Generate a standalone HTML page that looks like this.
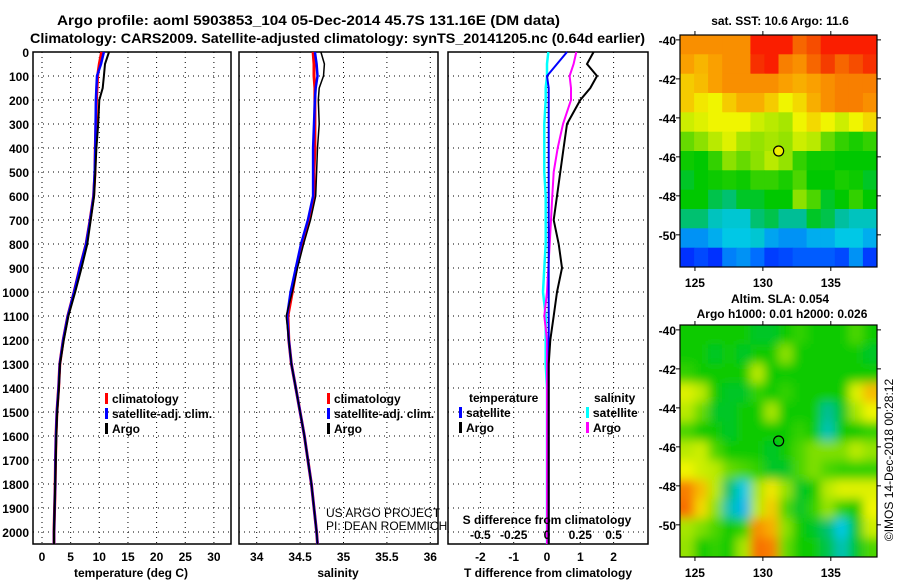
<!DOCTYPE html>
<html><head><meta charset="utf-8"><style>
body{margin:0;background:#fff;}
svg{display:block;font-family:"Liberation Sans",sans-serif;}
.b{font-weight:bold;}
</style></head><body>
<svg id="c" width="900" height="580" viewBox="0 0 900 580" xmlns="http://www.w3.org/2000/svg">
<defs>
<clipPath id="cp1"><rect x="680" y="35" width="197" height="232"/></clipPath>
<clipPath id="cp2"><rect x="680" y="325" width="197" height="232"/></clipPath>
<filter id="bl" x="-10%" y="-10%" width="120%" height="120%"><feGaussianBlur stdDeviation="5"/></filter>
</defs>
<text x="57" y="25" textLength="503" lengthAdjust="spacingAndGlyphs" class="b" font-size="14">Argo profile: aoml 5903853_104 05-Dec-2014 45.7S 131.16E (DM data)</text>
<text x="30" y="43" textLength="615" lengthAdjust="spacingAndGlyphs" class="b" font-size="14">Climatology: CARS2009. Satellite-adjusted climatology: synTS_20141205.nc (0.64d earlier)</text>
<g id="g"></g>
</svg>
<script>
// ---------- data ----------
const depths = [0,50,100,150,200,300,400,500,600,700,800,900,1000,1100,1200,1300,1400,1500,1600,1700,1800,1900,2000,2050];
const tempClim = [10.4,10.0,9.7,9.6,9.5,9.4,9.3,9.25,9.0,8.4,7.7,6.6,5.6,4.5,3.7,3.1,2.9,2.6,2.45,2.35,2.3,2.2,2.1,2.1];
const tempSat  = [10.8,10.3,9.6,9.5,9.4,9.35,9.3,9.2,9.0,8.4,7.7,6.6,5.6,4.5,3.7,3.1,2.9,2.6,2.45,2.35,2.3,2.2,2.1,2.1];
const tempArgo = [11.7,11.0,10.8,10.6,10.0,9.8,9.5,9.3,9.1,8.5,7.9,6.9,5.8,4.6,3.8,3.15,2.95,2.65,2.5,2.4,2.3,2.2,2.1,2.1];
const salClim  = [34.65,34.66,34.66,34.67,34.67,34.67,34.67,34.66,34.66,34.6,34.52,34.46,34.41,34.36,34.37,34.4,34.45,34.5,34.55,34.59,34.63,34.66,34.69,34.7];
const salSat   = [34.67,34.69,34.7,34.68,34.67,34.66,34.65,34.65,34.65,34.59,34.51,34.45,34.39,34.35,34.37,34.4,34.45,34.5,34.55,34.59,34.63,34.66,34.69,34.7];
const salArgo  = [34.74,34.78,34.77,34.72,34.71,34.72,34.7,34.69,34.68,34.62,34.54,34.47,34.41,34.34,34.37,34.4,34.45,34.5,34.55,34.59,34.63,34.66,34.69,34.7];
const dTsat  = [0.6,0.3,0.0,0.05,0.05,0.05,0.05,0.05,0.05,0.05,0.05,0.05,0.05,0.05,0.05,0.05,0.05,0.05,0.05,0.05,0.05,0.05,0.05,0.05];
const dTargo = [1.4,1.2,1.5,1.3,1.0,0.6,0.5,0.4,0.3,0.2,0.35,0.45,0.3,0.2,0.1,0.05,0.05,0.05,0.05,0.05,0.05,0.05,0.05,0.05];
const dSsat  = [0.01,0.0,0.0,-0.01,-0.01,-0.02,-0.02,-0.02,-0.01,-0.01,-0.01,-0.02,-0.03,-0.01,-0.01,-0.01,0,0,0,0,0,0,0,0];
const dSargo = [0.22,0.2,0.17,0.18,0.18,0.12,0.08,0.05,0.04,0.03,0.02,0.01,0.0,-0.02,0.0,0,0,0,0,0,0,0,0,0];
const depthTicks = [0,100,200,300,400,500,600,700,800,900,1000,1100,1200,1300,1400,1500,1600,1700,1800,1900,2000];
const tempTicks = [0,5,10,15,20,25,30];
const salTicks = [34,34.5,35,35.5,36];
const salTickLabels = ["34","34.5","35","35.5","36"];
const dTTicks = [-2,-1,0,1,2];
const dSTicks = [-0.5,-0.25,0,0.25,0.5];
const dSTickLabels = ["-0.5","-0.25","0","0.25","0.5"];
const latTicks = [-40,-42,-44,-46,-48,-50];
const lonTicks = [125,130,135];
const argoLon = 131.16, argoLat = -45.7;
const sstGrid = [
[.80,.80,.80,.80,.80,.95,.95,.95,.85,.88,.95,.95,.95,.95],
[.78,.75,.78,.80,.80,.92,.95,.82,.80,.85,.90,.85,.88,.92],
[.72,.74,.78,.80,.80,.80,.80,.78,.76,.78,.80,.82,.82,.82],
[.72,.68,.66,.72,.76,.76,.72,.66,.70,.76,.80,.82,.82,.80],
[.62,.64,.66,.66,.66,.62,.60,.58,.66,.70,.66,.62,.66,.70],
[.52,.55,.60,.64,.58,.56,.58,.56,.62,.60,.52,.48,.46,.48],
[.45,.44,.48,.55,.52,.55,.60,.56,.48,.45,.45,.44,.44,.44],
[.42,.44,.45,.46,.45,.48,.48,.46,.50,.44,.44,.46,.45,.42],
[.44,.44,.40,.38,.42,.42,.44,.44,.55,.50,.42,.44,.48,.44],
[.38,.38,.32,.30,.30,.38,.40,.36,.36,.42,.40,.35,.32,.32],
[.22,.22,.25,.28,.28,.30,.24,.22,.22,.25,.25,.28,.28,.25],
[.08,.12,.08,.20,.22,.18,.10,.12,.15,.15,.15,.12,.22,.10]];
const slaGrid = [
[.45,.45,.45,.45,.45,.42,.42,.45,.48,.45,.45,.45,.50,.45],
[.45,.45,.42,.45,.42,.45,.45,.55,.45,.45,.45,.45,.45,.42],
[.48,.45,.45,.45,.45,.60,.45,.45,.45,.45,.45,.45,.45,.45],
[.64,.60,.45,.42,.42,.48,.45,.48,.45,.45,.45,.45,.64,.74],
[.60,.52,.42,.42,.45,.45,.58,.45,.45,.45,.36,.42,.58,.66],
[.50,.45,.45,.42,.45,.45,.45,.45,.48,.45,.33,.45,.45,.48],
[.60,.62,.50,.45,.45,.45,.42,.45,.50,.54,.54,.54,.60,.56],
[.66,.62,.60,.52,.50,.48,.42,.42,.50,.54,.50,.48,.48,.48],
[.82,.74,.60,.38,.28,.58,.68,.56,.42,.45,.60,.64,.64,.64],
[.84,.70,.55,.33,.26,.60,.72,.50,.42,.48,.56,.48,.45,.66],
[.58,.54,.50,.45,.48,.80,.76,.55,.45,.42,.38,.28,.42,.62],
[.56,.45,.48,.45,.58,.84,.82,.52,.45,.45,.40,.33,.42,.50]];

// ---------- helpers ----------
const NS="http://www.w3.org/2000/svg";
const G=document.getElementById('g');
function mk(tag,attrs,parent){const e=document.createElementNS(NS,tag);for(const k in attrs)e.setAttribute(k,attrs[k]);(parent||G).appendChild(e);return e;}
function txt(x,y,s,size,anchor,bold,parent){const t=mk('text',{x:x,y:y,'font-size':size,'text-anchor':anchor||'middle'},parent);if(bold)t.setAttribute('font-weight','bold');t.textContent=s;return t;}
const yTop=52, yBot=544;
const yD=d=>yTop+(d/2050)*(yBot-yTop);
const xT=v=>42+5.73*v;
const xS=v=>256.7+(v-34)*86.8;
const xdT=v=>547+33.3*v;
const xdS=v=>547+133.2*v;

function panel(x0,x1,name){
  const r=mk('rect',{x:x0,y:yTop,width:x1-x0,height:yBot-yTop,fill:'#fff',stroke:'#000','stroke-width':1.5});
  
  
  depthTicks.forEach(d=>{
    const l=mk('line',{x1:x0,x2:x1,y1:yD(d),y2:yD(d),stroke:'#000','stroke-dasharray':'1,4','stroke-width':1});
    
    
  });
}
function vgrid(xs,name){
  xs.forEach(x=>{
    const l=mk('line',{x1:x,x2:x,y1:yTop,y2:yBot,stroke:'#000','stroke-dasharray':'1,4','stroke-width':1});
    
    
  });
}
function line(xs,fx,color,w,name){
  const pts=depths.map((d,i)=>fx(xs[i]).toFixed(1)+','+yD(d).toFixed(1)).join(' ');
  const p=mk('polyline',{points:pts,fill:'none',stroke:color,'stroke-width':w});
  
  
}
function legend(x,y,color,label,name){
  const r=mk('rect',{x:x,y:y-10,width:3,height:11,fill:color});
  
  
  const t=txt(x+7,y,label,12,'start',true);
  
  
}

// ---------- panel 1: temperature ----------
panel(33,231,'temperature-panel');
vgrid(tempTicks.map(xT),'temperature-gridline');
depthTicks.forEach(d=>{const t=txt(29,yD(d)+5,String(d),12,'end',true);
  
  });
tempTicks.forEach(v=>{const t=txt(xT(v),561,String(v),12,'middle',true);
  
  });
line(tempClim,xT,'#f00',3,'temperature-climatology-line');
line(tempSat,xT,'#00f',2.5,'temperature-satellite-line');
line(tempArgo,xT,'#000',2,'temperature-argo-line');
legend(105,403,'#f00','climatology','temp-legend-climatology');
legend(105,418,'#00f','satellite-adj. clim.','temp-legend-satellite');
legend(105,433,'#000','Argo','temp-legend-argo');
{const t=txt(131,577,'temperature (deg C)',12,'middle',true);}

// ---------- panel 2: salinity ----------
panel(239,438,'salinity-panel');
vgrid(salTicks.map(xS),'salinity-gridline');
salTicks.forEach((v,i)=>{const t=txt(xS(v),561,salTickLabels[i],12,'middle',true);
  
  });
line(salClim,xS,'#f00',3,'salinity-climatology-line');
line(salSat,xS,'#00f',2.5,'salinity-satellite-line');
line(salArgo,xS,'#000',1.5,'salinity-argo-line');
legend(327,403,'#f00','climatology','sal-legend-climatology');
legend(327,418,'#00f','satellite-adj. clim.','sal-legend-satellite');
legend(327,433,'#000','Argo','sal-legend-argo');
{const t=txt(326,517,'US ARGO PROJECT',12,'start',false);
 const u=txt(326,530,'PI: DEAN ROEMMICH',12,'start',false);
 const s=txt(338,577,'salinity',12,'middle',true);}

// ---------- panel 3: differences ----------
panel(448,648,'difference-panel');
vgrid(dTTicks.map(xdT),'difference-gridline');
line(dSsat,xdS,'#0ff',2.5,'salinity-satellite-diff-line');
line(dSargo,xdS,'#f0f',2,'salinity-argo-diff-line');
line(dTsat,xdT,'#00f',2,'temperature-satellite-diff-line');
line(dTargo,xdT,'#000',2,'temperature-argo-diff-line');
dTTicks.forEach(v=>{const t=txt(xdT(v),561,String(v),12,'middle',true);
  
  });
dSTicks.forEach((v,i)=>{const t=txt(xdS(v),539,dSTickLabels[i],12,'middle',true);
  
  });
{const t=txt(547,524,'S difference from climatology',12,'middle',true);
 const u=txt(548,577,'T difference from climatology',12,'middle',true);
 const a=txt(469,402,'temperature',12,'start',true);
 const b=txt(594,402,'salinity',12,'start',true);}
legend(459,417,'#00f','satellite','diff-legend-temp-satellite');
legend(459,432,'#000','Argo','diff-legend-temp-argo');
legend(586,417,'#0ff','satellite','diff-legend-sal-satellite');
legend(586,432,'#f0f','Argo','diff-legend-sal-argo');

// ---------- maps ----------
const stops=[[0,[0,0,255]],[0.18,[0,110,255]],[0.28,[0,200,230]],[0.36,[0,190,150]],[0.44,[0,200,0]],[0.55,[140,225,0]],[0.66,[240,245,0]],[0.78,[250,160,0]],[0.9,[245,60,0]],[1,[255,0,0]]];
function cmap(v){for(let i=1;i<stops.length;i++){if(v<=stops[i][0]){const a=stops[i-1],b=stops[i],t=(v-a[0])/(b[0]-a[0]);return 'rgb('+a[1].map((c,k)=>Math.round(c+(b[1][k]-c)*t)).join(',')+')';}}return 'rgb(255,0,0)';}
const mx0=680,mx1=877,lon0=123.9,lon1=138.4;
const mxL=v=>mx0+(v-lon0)/(lon1-lon0)*(mx1-mx0);
function drawMap(grid,y0,clip,blur,name){
  const lat0=-39.75, lat1=-51.65;
  const myL=v=>y0+(v-lat0)/(lat1-lat0)*232;
  const grp=mk('g',{'clip-path':'url(#'+clip+')'});
  
  
  mk('rect',{x:mx0,y:y0,width:197,height:232,fill:cmap(0.45)},grp);
  const inner=mk('g',blur?{filter:'url(#bl)'}:{},grp);
  const rows=grid.length,cols=grid[0].length,cw=197/cols,ch=232/rows;
  grid.forEach((row,j)=>row.forEach((v,i)=>{
    const ex=(blur?8:0)*((i==0||i==cols-1)?1:0), ey=(blur?8:0)*((j==0||j==rows-1)?1:0);
    const r=mk('rect',{x:(mx0+i*cw-(i==0?ex:0)).toFixed(1),y:(y0+j*ch-(j==0?ey:0)).toFixed(1),width:(cw+0.6+ex).toFixed(1),height:(ch+0.6+ey).toFixed(1),fill:cmap(v)},inner);
    
    
  }));
  const fr=mk('rect',{x:mx0,y:y0,width:197,height:232,fill:'none',stroke:'#000','stroke-width':1.2});
  
  
  latTicks.forEach(l=>{
    mk('line',{x1:mx0-4,x2:mx0,y1:myL(l),y2:myL(l),stroke:'#000'});
    mk('line',{x1:mx1,x2:mx1+4,y1:myL(l),y2:myL(l),stroke:'#000'});
    const t=txt(mx0-4,myL(l)+5,String(l),12,'end',true);
    
    
  });
  lonTicks.forEach(l=>{
    mk('line',{x1:mxL(l),x2:mxL(l),y1:y0-4,y2:y0,stroke:'#000'});
    mk('line',{x1:mxL(l),x2:mxL(l),y1:y0+232,y2:y0+236,stroke:'#000'});
    const t=txt(mxL(l),y0+252,String(l),12,'middle',true);
    
    
  });
  const c=mk('circle',{cx:mxL(argoLon),cy:myL(argoLat),r:5,fill:blur?'none':'#ee0',stroke:'#000','stroke-width':1.2});
  
  
}
drawMap(sstGrid,35,'cp1',false,'sst-map');
drawMap(slaGrid,325,'cp2',true,'sla-map');
{const a=txt(780,25,'sat. SST: 10.6 Argo: 11.6',12,'middle',true);
 const b=txt(780,303,'Altim. SLA: 0.054',12,'middle',true);
 const c=txt(782,318,'Argo h1000: 0.01 h2000: 0.026',12,'middle',true);
 const d=txt(0,0,'©IMOS 14-Dec-2018 00:28:12',12,'middle',false);d.setAttribute('transform','translate(893,460) rotate(-90)');}
</script>
</body></html>
